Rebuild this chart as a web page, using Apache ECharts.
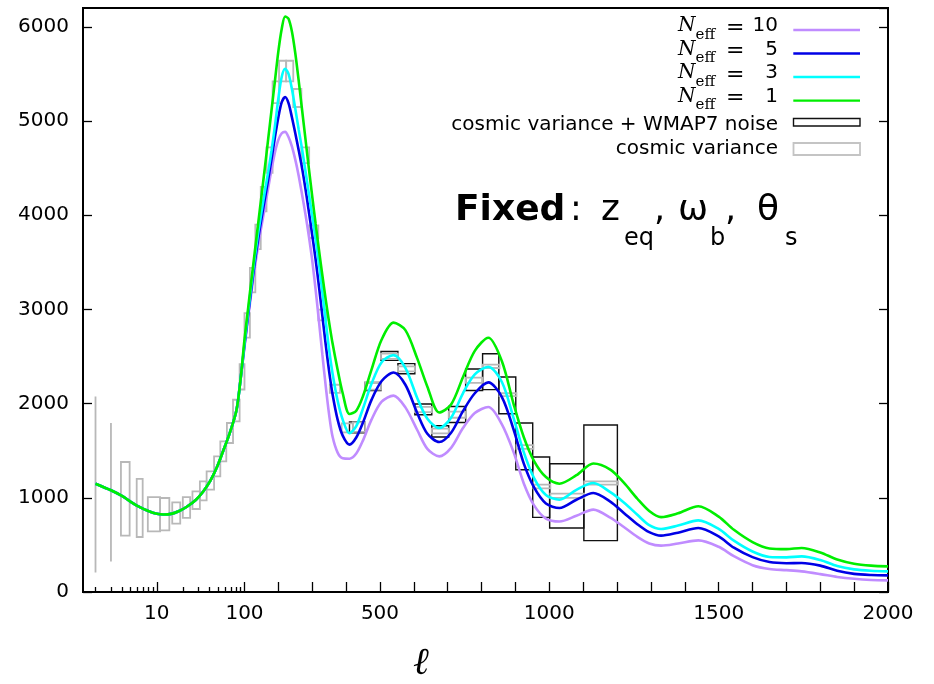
<!DOCTYPE html>
<html><head><meta charset="utf-8">
<script src="https://cdn.jsdelivr.net/npm/echarts@6/dist/echarts.min.js"></script>
<style>html,body{margin:0;padding:0;background:#fff}#c{width:934px;height:684px}</style>
</head><body><div id="c"></div>
<script>
// multipole grid shared by all model curves
const ellGrid = [2,3,4,5,6,8,10,12,15,18,22,28,34,41,49,57,68,81,90,
 100,110,120,130,140,150,160,170,180,190,200,210,220,230,240,250,260,270,280,290,300,310,320,330,340,350,360,
 375,390,410,430,450,475,
 505,540,575,610,640,675,710,745,780,820,860,895,925,955,990,1030,1080,1130,1180,1220,1260,1295,1330,1380,1440,1500,1545,1600,1650,1700,1745,1800,1850,1900,1950,2000];
const lowShared = [1150,1080,1020,960,915,860,830,822,832,860,905,980,1070,1185,1335,1495,1690,1930,2250];
const dNeff10 = lowShared.concat([
 2600,2890,3170,3430,3670,3880,4080,4290,4490,4670,4800,4870,4885,4830,4730,4590,4420,4220,4010,3780,3520,3210,2870,2520,2180,1880,1650,
 1480,1420,1415,1470,1610,1830,
 2020,2085,1960,1720,1520,1440,1530,1740,1900,1964,1780,1480,1150,920,780,749,810,874,790,690,585,515,492,515,548,480,380,285,244,232,219,190,160,140,128,123]);
const dNeff5 = lowShared.concat([
 2620,2920,3210,3490,3740,3960,4170,4380,4600,4830,5040,5200,5255,5190,5040,4870,4690,4500,4280,4040,3790,3530,3240,2930,2620,2340,2100,
 1830,1660,1565,1640,1800,2040,
 2240,2330,2200,1900,1680,1592,1690,1920,2110,2225,2070,1720,1360,1110,940,892,980,1051,960,840,720,635,598,630,679,590,470,370,318,306,308,280,225,192,180,176]);
const dNeff3 = lowShared.concat([
 2640,2950,3250,3540,3800,4030,4250,4460,4690,4950,5240,5470,5555,5500,5340,5130,4910,4700,4470,4230,3990,3750,3480,3180,2870,2570,2320,
 2030,1830,1685,1760,1950,2210,
 2440,2515,2380,2060,1840,1741,1850,2110,2310,2390,2230,1840,1480,1210,1030,980,1085,1157,1060,950,820,710,669,705,760,670,545,430,372,368,378,340,275,240,225,219]);
const dNeff1 = lowShared.concat([
 2680,2990,3300,3600,3900,4200,4500,4810,5120,5430,5740,5980,6110,6085,5950,5720,5430,5120,4810,4500,4200,3910,3630,3360,3100,2860,2640,
 2360,2110,1890,1925,2080,2360,
 2680,2860,2780,2480,2180,1905,1990,2280,2560,2700,2450,1990,1640,1390,1220,1150,1240,1365,1300,1160,990,860,795,835,910,800,660,530,462,455,467,420,345,300,280,272]);

// cosmic variance boxes: l from, l to, D low, D high
const cvLo  = [2,3,3.9,5.9,7.9,10.9,15,19.8,25.5,31,37,45,53,63,74,88,100,116,132,148,165,183,202,223,244,268,291,318,352,387,420,456,503,553,603,653,703,753,803,853,903,953,1003,1103];
const cvHi  = [2,3,4.9,6.9,10.9,13.9,18.5,24,31,37,45,53,62,74,88,100,116,132,148,165,183,202,223,244,268,291,318,342,382,420,456,503,553,603,653,703,753,803,853,903,953,1003,1103,1203];
const cvMin = [208,325,598,584,643,654,725,786,881,972,1086,1227,1386,1582,1811,2150,2700,3180,3640,4040,4450,5191,5420,5420,5149,4554,3758,2883,2113,1694,1700,2148,2475,2342,1910,1685,1850,2220,2378,2080,1520,1100,1000,1140];
const cvMax = [2076,1794,1380,1200,1008,998,951,1008,1068,1174,1280,1440,1599,1794,2041,2420,2960,3440,3900,4300,4720,5420,5640,5640,5340,4720,3892,2997,2200,1790,1800,2219,2530,2395,1965,1735,1915,2275,2413,2110,1560,1140,1045,1175];
// cosmic variance + WMAP7 noise boxes
const wnLo  = [410,455,503,553,603,653,703,753,803,851,901,951,1001,1102];
const wnHi  = [455,503,553,603,653,703,753,803,851,901,951,1001,1102,1201];
const wnMin = [1690,2140,2459,2317,1882,1645,1800,2140,2148,1893,1298,792,679,545];
const wnMax = [1805,2225,2554,2424,1996,1765,1970,2367,2530,2282,1794,1433,1362,1773];

const xMajorTicks = [10,100,200,300,400,500,600,700,800,900,1000,1100,1200,1300,1400,1500,1600,1700,1800,1900,2000];
const xMinorTicks = [2,3,4,5,6,7,8,9,20,30,40,50,60,70,80,90];
const xLabelTicks = [10,100,500,1000,1500,2000];
const seriesNames = ['N_eff = 10','N_eff = 5','N_eff = 3','N_eff = 1'];
const seriesColors = ['#c08cff','#0000e6','#00ffff','#00ee00'];
const legendNums = ['10','5','3','1'];

// hybrid axis: logarithmic below l=100, linear above
const DEC = 258.9;
function ellToAxis(l){ return l <= 100 ? DEC*Math.log10(l) : 2*DEC + (l - 100); }
function axisToEll(v){ return v <= 2*DEC + 1e-9 ? Math.pow(10, v/DEC) : v - 2*DEC + 100; }
const X_MIN = ellToAxis(1.44), X_MAX = ellToAxis(2000);

const chart = echarts.init(document.getElementById('c'), null, {renderer:'canvas'});
const FONT = 'DejaVu Sans';

function boxSeries(lo, hi, mn, mx, color, width){
  return {
    type:'custom', xAxisIndex:0, yAxisIndex:0, silent:true,
    data: lo.map((l,i)=>[ellToAxis(l), ellToAxis(hi[i]), mn[i], mx[i]]),
    encode:{x:[0,1], y:[2,3]},
    renderItem:(params, api)=>{
      const p1 = api.coord([api.value(0), api.value(3)]);
      const p2 = api.coord([api.value(1), api.value(2)]);
      return {type:'rect', shape:{x:p1[0], y:p1[1], width:p2[0]-p1[0], height:p2[1]-p1[1]},
        style:{fill:null, stroke:color, lineWidth:width}};
    }
  };
}
const curves = [dNeff10, dNeff5, dNeff3, dNeff1];
const lineSeries = curves.map((d,k)=>({
  type:'line', name:seriesNames[k], xAxisIndex:0, yAxisIndex:0,
  data: ellGrid.map((l,i)=>[ellToAxis(l), d[i]]),
  showSymbol:false, smooth:0.3, lineStyle:{color:seriesColors[k], width:2.6}, itemStyle:{color:seriesColors[k]},
  silent:true
}));

// legend graphics
const graphics = [];
const rowY = [30, 53.5, 77, 100.6];
for (let k=0;k<4;k++){
  const y = rowY[k];
  graphics.push({type:'text', left:678, top:y-14, style:{text:'N', font:'italic 20px "DejaVu Serif"', fill:'#000'}});
  graphics.push({type:'text', left:695.5, top:y-2.5, style:{text:'eff', font:'15px "DejaVu Serif"', fill:'#000'}});
  graphics.push({type:'text', left:726, top:y-13, style:{text:'=', font:'22px "DejaVu Serif"', fill:'#000'}});
  graphics.push({type:'text', right:934-778, top:y-14, style:{text:legendNums[k], font:'20px "DejaVu Sans"', fill:'#000', align:'right'}});
  graphics.push({type:'line', shape:{x1:793.3, y1:y, x2:860, y2:y}, style:{stroke:seriesColors[k], lineWidth:2.4}});
}
graphics.push({type:'text', right:934-778, top:115, style:{text:'cosmic variance + WMAP7 noise', font:'20px "DejaVu Sans"', fill:'#000'}});
graphics.push({type:'rect', shape:{x:793.5, y:118.5, width:66.5, height:7.5}, style:{fill:null, stroke:'#111', lineWidth:1.4}});
graphics.push({type:'text', right:934-778, top:138.5, style:{text:'cosmic variance', font:'20px "DejaVu Sans"', fill:'#000'}});
graphics.push({type:'rect', shape:{x:793.5, y:143, width:66.5, height:12}, style:{fill:null, stroke:'#c4c4c4', lineWidth:1.8}});
// annotation
const annParts = [
  {t:'Fixed', x:455, y:211, f:'bold 36px "DejaVu Sans"'},
  {t:':', x:570, y:211, f:'35px "DejaVu Sans"'},
  {t:'z', x:601, y:211, f:'36px "DejaVu Sans"'},
  {t:'eq', x:624, y:239, f:'24px "DejaVu Sans"'},
  {t:',', x:654, y:211, f:'35px "DejaVu Sans"'},
  {t:'\u03c9', x:678, y:211, f:'36px "DejaVu Sans"'},
  {t:'b', x:710, y:239, f:'24px "DejaVu Sans"'},
  {t:',', x:725, y:211, f:'35px "DejaVu Sans"'},
  {t:'\u03b8', x:757, y:211, f:'36px "DejaVu Sans"'},
  {t:'s', x:785, y:239, f:'24px "DejaVu Sans"'}
];
annParts.forEach(p=>graphics.push({type:'text', x:p.x, y:p.y, style:{text:p.t, font:p.f, fill:'#000', align:'left', verticalAlign:'middle'}}));
graphics.push({type:'text', x:421, y:664, style:{text:'\u2113', font:'italic 38px "DejaVu Serif"', fill:'#000', align:'center', verticalAlign:'middle'}});

const option = {
  animation:false,
  backgroundColor:'#fff',
  grid:{left:83, right:46, top:8, bottom:92, show:true, borderColor:'#000', borderWidth:2, outerBoundsMode:'none', containLabel:false},
  xAxis:[
    {type:'value', min:X_MIN, max:X_MAX, position:'bottom',
     axisLine:{show:true, onZero:false, lineStyle:{color:'#000', width:2}},
     axisTick:{show:true, inside:true, length:10, customValues:xMajorTicks.map(ellToAxis), lineStyle:{color:'#000', width:1.3}},
     axisLabel:{show:true, customValues:xLabelTicks.map(ellToAxis), margin:12, color:'#000', fontSize:20, fontFamily:FONT,
       formatter:(v)=>String(Math.round(axisToEll(v)))},
     splitLine:{show:false}},
    {type:'value', min:X_MIN, max:X_MAX, position:'bottom',
     axisLine:{show:false},
     axisTick:{show:true, inside:true, length:5, customValues:xMinorTicks.map(ellToAxis), lineStyle:{color:'#000', width:1.3}},
     axisLabel:{show:false}, splitLine:{show:false}}
  ],
  yAxis:[
    {type:'value', min:0, max:6200, interval:1000, position:'left',
     axisLine:{show:true, lineStyle:{color:'#000', width:2}},
     axisTick:{show:true, inside:true, length:9, lineStyle:{color:'#000', width:1.3}},
     axisLabel:{margin:14, color:'#000', fontSize:20, fontFamily:FONT, showMaxLabel:false, formatter:(v)=>String(v)},
     splitLine:{show:false}},
    {type:'value', min:0, max:6200, interval:1000, position:'right',
     axisLine:{show:false},
     axisTick:{show:true, inside:true, length:9, lineStyle:{color:'#000', width:1.3}},
     axisLabel:{show:false}, splitLine:{show:false}}
  ],
  series:[
    boxSeries(wnLo, wnHi, wnMin, wnMax, '#111', 1.4),
    boxSeries(cvLo, cvHi, cvMin, cvMax, '#b8b8b8', 1.8)
  ].concat(lineSeries),
  graphic:graphics
};
chart.setOption(option);
</script>
</body></html>
